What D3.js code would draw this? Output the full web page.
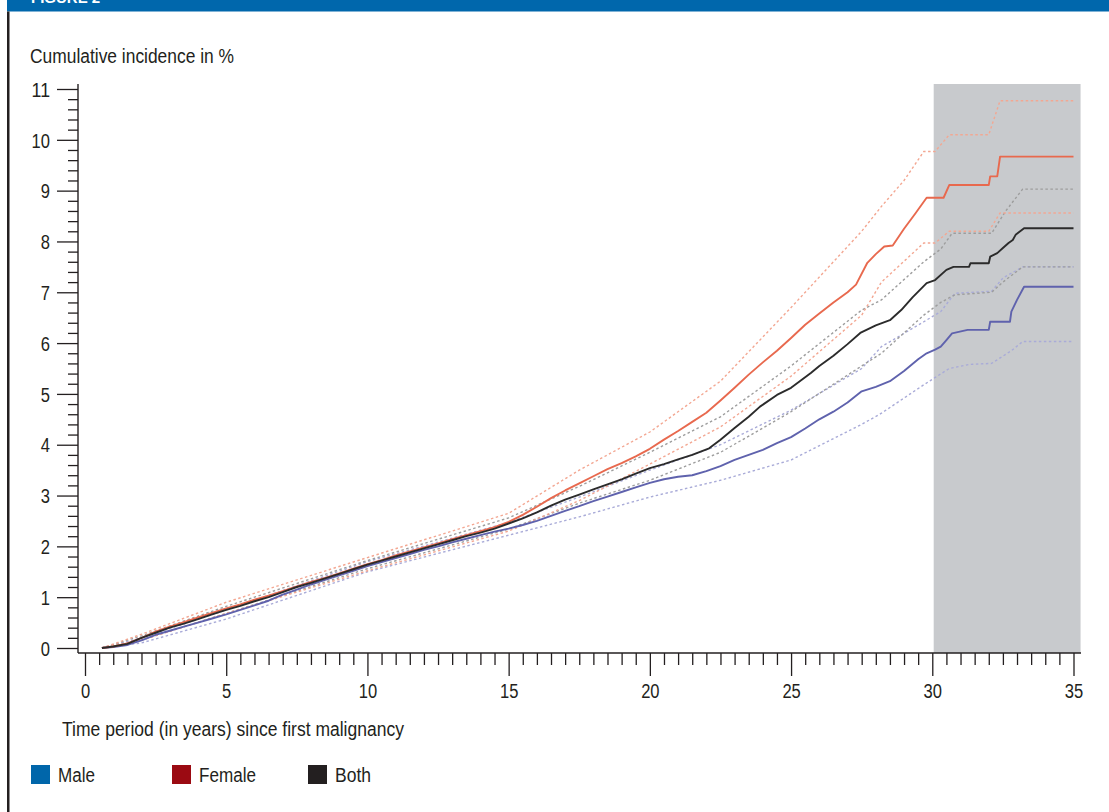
<!DOCTYPE html>
<html>
<head>
<meta charset="utf-8">
<script src="https://cdn.jsdelivr.net/npm/d3@7"></script>
<style>
  html, body { margin: 0; padding: 0; background: #ffffff; }
  svg { display: block; }
  text { font-family: "Liberation Sans", Arial, Helvetica, sans-serif; fill: #231f20; }
</style>
</head>
<body>
<svg id="chart" width="1109" height="812"></svg>
<script>
// Cumulative incidence (%) of a subsequent malignancy by years since first malignancy.
// Each series is a list of [years, percent] points.
const female = [
  [0.6,0],[1,0.03],[1.5,0.09],[2,0.2],[2.5,0.32],[3,0.42],[3.5,0.51],[4,0.6],[4.5,0.69],[5,0.78],
  [5.5,0.86],[6,0.95],[6.5,1.03],[7,1.12],[7.5,1.21],[8,1.3],[8.5,1.38],[9,1.47],[9.5,1.56],[10,1.65],
  [10.5,1.73],[11,1.82],[11.5,1.9],[12,1.98],[12.5,2.06],[13,2.14],[13.5,2.22],[14,2.3],[14.5,2.38],[15,2.48],
  [15.5,2.62],[16,2.78],[16.5,2.95],[17,3.1],[17.5,3.24],[18,3.38],[18.5,3.52],[19,3.64],[19.5,3.77],[20,3.92],
  [20.5,4.1],[21,4.27],[21.5,4.45],[22,4.63],[22.5,4.87],[23,5.12],[23.5,5.38],[24,5.62],[24.5,5.85],[25,6.1],
  [25.5,6.36],[26,6.58],[26.5,6.8],[27,7.0],[27.3,7.15],[27.7,7.58],[28,7.75],[28.3,7.9],[28.6,7.92],[29,8.25],
  [29.4,8.55],[29.8,8.86],[30.4,8.86],[30.6,9.11],[32.0,9.11],[32.05,9.28],[32.3,9.28],[32.4,9.67],[35,9.67]
];
const both = [
  [0.6,0],[1,0.03],[1.5,0.08],[2,0.2],[2.5,0.3],[3,0.4],[3.5,0.48],[4,0.57],[4.5,0.66],[5,0.75],
  [5.5,0.83],[6,0.92],[6.5,1.0],[7,1.1],[7.5,1.2],[8,1.28],[8.5,1.37],[9,1.46],[9.5,1.55],[10,1.64],
  [10.5,1.72],[11,1.8],[11.5,1.88],[12,1.96],[12.5,2.04],[13,2.12],[13.5,2.2],[14,2.27],[14.5,2.35],[15,2.45],
  [15.5,2.55],[16,2.67],[16.5,2.8],[17,2.92],[17.5,3.02],[18,3.12],[18.5,3.22],[19,3.32],[19.5,3.43],[20,3.54],
  [20.5,3.62],[21,3.71],[21.5,3.8],[22.1,3.93],[22.5,4.1],[23,4.33],[23.5,4.55],[23.9,4.75],[24.5,4.98],[25,5.12],
  [25.7,5.41],[26,5.55],[26.5,5.75],[27,5.98],[27.45,6.2],[28,6.35],[28.5,6.45],[28.9,6.65],[29.3,6.9],[29.8,7.18],
  [30.1,7.24],[30.5,7.44],[30.75,7.5],[31.3,7.5],[31.35,7.57],[32.0,7.57],[32.05,7.7],[32.3,7.77],[32.5,7.87],
  [32.7,7.97],[32.85,8.03],[32.95,8.13],[33.25,8.26],[35,8.26]
];
const male = [
  [0.6,0],[1,0.02],[1.5,0.06],[2,0.15],[2.5,0.26],[3,0.34],[3.5,0.42],[4,0.5],[4.5,0.58],[5,0.66],
  [5.5,0.75],[6,0.84],[6.5,0.93],[7,1.05],[7.5,1.15],[8,1.25],[8.5,1.34],[9,1.43],[9.5,1.52],[10,1.61],
  [10.5,1.69],[11,1.77],[11.5,1.85],[12,1.93],[12.5,2.0],[13,2.08],[13.5,2.15],[14,2.22],[14.5,2.29],[15,2.35],
  [15.5,2.42],[16,2.5],[16.5,2.6],[17,2.7],[17.5,2.79],[18,2.89],[18.5,2.98],[19,3.07],[19.5,3.16],[20,3.25],
  [20.5,3.32],[21,3.37],[21.5,3.4],[22,3.48],[22.5,3.58],[23,3.7],[23.5,3.8],[24,3.9],[24.5,4.03],[25,4.15],
  [25.5,4.32],[26,4.5],[26.5,4.65],[27,4.83],[27.5,5.05],[28,5.14],[28.5,5.25],[29,5.45],[29.5,5.68],[29.8,5.8],
  [30.1,5.87],[30.3,5.93],[30.5,6.06],[30.7,6.19],[31.25,6.26],[32.0,6.26],[32.05,6.42],[32.75,6.42],[32.8,6.62],
  [33.0,6.85],[33.25,7.11],[35,7.11]
];

// 95% confidence bounds
const femaleUpper = [[0.6,0],[2,0.27],[5,0.9],[10,1.78],[15,2.65],[17.5,3.5],[20,4.25],[22.5,5.25],[25,6.7],[27.5,8.2],[28.2,8.69],[29,9.2],[29.7,9.77],[30.1,9.77],[30.6,10.1],[32.0,10.1],[32.4,10.77],[35,10.77]];
const femaleLower = [[0.6,0],[2,0.15],[5,0.68],[10,1.52],[15,2.3],[17.5,2.9],[20,3.62],[22.5,4.35],[25,5.35],[27.5,6.55],[28.2,7.2],[29.7,7.97],[30.1,7.97],[30.6,8.2],[32.0,8.2],[32.4,8.56],[35,8.56]];
const bothUpper = [[0.6,0],[2,0.24],[5,0.82],[10,1.72],[15,2.56],[17.5,3.18],[20,3.85],[22.5,4.55],[25,5.55],[27.5,6.65],[28.2,6.85],[29.7,7.6],[30.3,7.85],[30.7,8.16],[32.1,8.16],[32.6,8.6],[33.2,9.03],[35,9.03]];
const bothLower = [[0.6,0],[2,0.16],[5,0.68],[10,1.56],[15,2.34],[17.5,2.85],[20,3.3],[22.5,3.85],[25,4.65],[27.5,5.55],[28.2,5.8],[29.7,6.55],[30.3,6.8],[30.8,6.95],[32.1,7.0],[32.5,7.2],[33.2,7.5],[35,7.5]];
const maleUpper = [[0.6,0],[2,0.2],[5,0.75],[10,1.7],[15,2.47],[17.5,2.97],[20,3.5],[22.5,4.0],[25,4.68],[27.5,5.5],[28.2,5.93],[29.7,6.42],[30.3,6.62],[30.8,6.98],[32.1,7.02],[32.5,7.28],[33.2,7.5],[35,7.5]];
const maleLower = [[0.6,0],[2,0.1],[5,0.57],[10,1.5],[15,2.22],[17.5,2.58],[20,2.97],[22.5,3.3],[25,3.7],[27.5,4.4],[28.2,4.62],[29.7,5.18],[30.6,5.5],[31.3,5.58],[32.1,5.6],[32.8,5.85],[33.2,6.03],[35,6.03]];

// Period with sparse follow-up (shaded)
const sparsePeriod = [30.05, 35.25];

const xTicks = [0, 5, 10, 15, 20, 25, 30, 35];
const yTicks = [0, 1, 2, 3, 4, 5, 6, 7, 8, 9, 10, 11];
const legendItems = ["Male", "Female", "Both"];
const legendColors = ["#0066aa", "#9b0a12", "#231f20"];

const svg = d3.select("#chart");
const ink = "#231f20";
const fontSize = 20;

// Frame: blue header band and left rule
svg.append("rect").attr("x", 7).attr("y", 0).attr("width", 1102).attr("height", 11.5).attr("fill", "#0067ac");
svg.append("text").attr("x", 31).attr("y", 3).attr("font-size", 15).attr("font-weight", "bold")
  .style("fill", "#ffffff").text("FIGURE 2");
svg.append("rect").attr("x", 7).attr("y", 11.5).attr("width", 2.5).attr("height", 801).attr("fill", ink);

const x = d3.scaleLinear().domain([0, 35]).range([85, 1073.5]);
const y = d3.scaleLinear().domain([0, 11]).range([648, 89]);

// Shaded region
svg.append("rect")
  .attr("x", x(sparsePeriod[0])).attr("y", 84)
  .attr("width", x(sparsePeriod[1]) - x(sparsePeriod[0])).attr("height", 653 - 84)
  .attr("fill", "#c8cacd");

// Axes
const axisY = 653, axisX = 78;
const gx = svg.append("g").attr("transform", `translate(0,${axisY})`)
  .call(d3.axisBottom(x).tickValues(xTicks).tickSize(23).tickPadding(8).tickFormat(d3.format("d")));
const gxMinor = svg.append("g").attr("transform", `translate(0,${axisY})`)
  .call(d3.axisBottom(x).tickValues(d3.range(0.5, 35, 0.5).filter(v => v % 5 !== 0)).tickSize(12).tickFormat(""));
const gy = svg.append("g").attr("transform", `translate(${axisX},0)`)
  .call(d3.axisLeft(y).tickValues(yTicks).tickSize(21).tickPadding(7).tickFormat(d3.format("d")));
const gyMinor = svg.append("g").attr("transform", `translate(${axisX},0)`)
  .call(d3.axisLeft(y).tickValues(d3.range(0.2, 11, 0.2).filter(v => Math.abs(v - Math.round(v)) > 0.01)).tickSize(10).tickFormat(""));

[gx, gxMinor, gy, gyMinor].forEach(g => {
  g.select(".domain").remove();
  g.selectAll(".tick line").attr("stroke", ink).attr("stroke-width", 1.3);
  g.selectAll(".tick text").attr("font-size", fontSize).style("fill", ink)
    .attr("font-family", "Liberation Sans, Arial, sans-serif")
    // condensed digits, about 9px each
    .attr("textLength", function () { return this.textContent.length * 9.2; })
    .attr("lengthAdjust", "spacingAndGlyphs");
});
gy.selectAll(".tick text").attr("dy", "0.36em");

svg.append("line").attr("x1", axisX).attr("x2", axisX).attr("y1", 84).attr("y2", axisY)
  .attr("stroke", ink).attr("stroke-width", 1.4);
svg.append("line").attr("x1", axisX).attr("x2", 1081).attr("y1", axisY).attr("y2", axisY)
  .attr("stroke", ink).attr("stroke-width", 1.4);

// Axis titles (condensed to the printed widths)
svg.append("text").attr("x", 30).attr("y", 63).attr("font-size", fontSize)
  .attr("textLength", 204).attr("lengthAdjust", "spacingAndGlyphs").text("Cumulative incidence in %");
svg.append("text").attr("x", 62).attr("y", 736).attr("font-size", fontSize)
  .attr("textLength", 342).attr("lengthAdjust", "spacingAndGlyphs").text("Time period (in years) since first malignancy");

// Curves
const line = d3.line().x(d => x(d[0])).y(d => y(d[1])).curve(d3.curveLinear);

const bounds = [
  { data: maleLower, color: "#a9abd8" },
  { data: maleUpper, color: "#a9abd8" },
  { data: bothLower, color: "#9d9d9d" },
  { data: bothUpper, color: "#9d9d9d" },
  { data: femaleLower, color: "#f3a792" },
  { data: femaleUpper, color: "#f3a792" }
];
svg.append("g").selectAll("path").data(bounds).join("path")
  .attr("d", d => line(d.data))
  .attr("fill", "none").attr("stroke", d => d.color)
  .attr("stroke-width", 1.4).attr("stroke-dasharray", "2.5,2.5");

const mains = [
  { data: male, color: "#5f62ad" },
  { data: female, color: "#e8694e" },
  { data: both, color: "#2b2b2b" }
];
svg.append("g").selectAll("path").data(mains).join("path")
  .attr("d", d => line(d.data))
  .attr("fill", "none").attr("stroke", d => d.color)
  .attr("stroke-width", 1.9).attr("stroke-linejoin", "round");

// Legend
const legendX = [31, 172, 308];
const legendW = [37, 57, 36];
const lg = svg.append("g");
legendItems.forEach((name, i) => {
  lg.append("rect").attr("x", legendX[i]).attr("y", 765).attr("width", 19).attr("height", 19).attr("fill", legendColors[i]);
  lg.append("text").attr("x", legendX[i] + 27).attr("y", 782).attr("font-size", fontSize)
    .attr("textLength", legendW[i]).attr("lengthAdjust", "spacingAndGlyphs").text(name);
});
</script>
</body>
</html>
